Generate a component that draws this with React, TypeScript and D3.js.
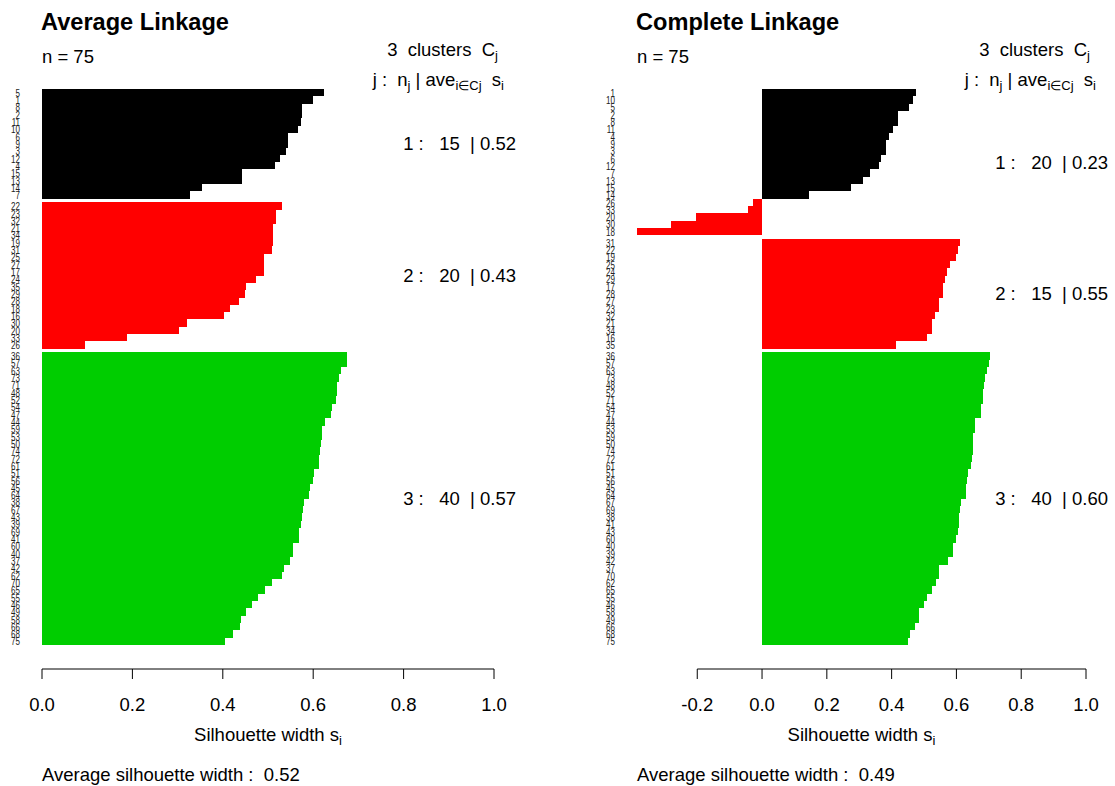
import React from 'react';
import * as d3 from 'd3';

const W = 1115;
const H = 786;
const FONT = '"Liberation Sans", Arial, Helvetica, sans-serif';
const BASE = 18.5;
const COLORS = ['#000000', '#FF0000', '#00CD00'];

// ---------- Average linkage (cluster member ids, top to bottom, and silhouette widths)
const avgC1Ids = [5, 1, 8, 2, 11, 10, 6, 9, 3, 12, 4, 15, 13, 14, 7];
const avgC1Vals = [0.624, 0.600, 0.575, 0.575, 0.573, 0.566, 0.544, 0.544, 0.539, 0.527, 0.516, 0.442, 0.442, 0.353, 0.327];
const avgC2Ids = [22, 23, 32, 21, 34, 19, 31, 25, 27, 17, 24, 35, 29, 28, 18, 16, 30, 20, 33, 26];
const avgC2Vals = [0.531, 0.518, 0.518, 0.511, 0.511, 0.511, 0.509, 0.491, 0.491, 0.491, 0.474, 0.452, 0.449, 0.436, 0.416, 0.403, 0.321, 0.303, 0.188, 0.095];
const avgC3Ids = [36, 57, 63, 73, 71, 48, 52, 54, 47, 44, 59, 53, 50, 74, 72, 61, 51, 56, 45, 64, 38, 67, 43, 39, 69, 41, 60, 40, 37, 42, 62, 70, 65, 55, 46, 49, 58, 66, 68, 75];
const avgC3Vals = [0.675, 0.675, 0.662, 0.657, 0.653, 0.653, 0.651, 0.642, 0.640, 0.626, 0.620, 0.620, 0.617, 0.615, 0.613, 0.613, 0.602, 0.600, 0.593, 0.591, 0.580, 0.578, 0.575, 0.573, 0.569, 0.569, 0.556, 0.556, 0.549, 0.536, 0.531, 0.509, 0.494, 0.478, 0.465, 0.452, 0.440, 0.438, 0.423, 0.405];

// ---------- Complete linkage
const compC1Ids = [1, 10, 5, 2, 8, 11, 4, 9, 3, 6, 12, 7, 13, 15, 14, 26, 33, 20, 30, 18];
const compC1Vals = [0.474, 0.466, 0.453, 0.419, 0.419, 0.403, 0.391, 0.382, 0.382, 0.367, 0.360, 0.332, 0.311, 0.274, 0.144, -0.028, -0.043, -0.204, -0.281, -0.386];
const compC2Ids = [31, 22, 19, 25, 24, 29, 17, 28, 27, 23, 32, 21, 34, 16, 35];
const compC2Vals = [0.611, 0.605, 0.599, 0.580, 0.571, 0.565, 0.559, 0.559, 0.546, 0.546, 0.534, 0.525, 0.525, 0.509, 0.414];
const compC3Ids = [36, 57, 63, 73, 48, 52, 71, 54, 47, 44, 53, 59, 50, 74, 72, 61, 51, 56, 45, 64, 67, 69, 38, 41, 43, 60, 40, 39, 42, 37, 70, 62, 65, 55, 46, 58, 49, 66, 68, 75];
const compC3Vals = [0.704, 0.701, 0.694, 0.688, 0.685, 0.682, 0.682, 0.676, 0.676, 0.658, 0.657, 0.651, 0.651, 0.651, 0.648, 0.645, 0.636, 0.633, 0.630, 0.630, 0.614, 0.611, 0.608, 0.608, 0.605, 0.599, 0.590, 0.590, 0.574, 0.546, 0.546, 0.538, 0.526, 0.509, 0.500, 0.486, 0.486, 0.472, 0.457, 0.451];

const leftTicks = [0, 0.2, 0.4, 0.6, 0.8, 1.0];
const rightTicks = [-0.2, 0, 0.2, 0.4, 0.6, 0.8, 1.0];

type Cluster = { ids: number[]; vals: number[] };

const avgClusters: Cluster[] = [
  { ids: avgC1Ids, vals: avgC1Vals },
  { ids: avgC2Ids, vals: avgC2Vals },
  { ids: avgC3Ids, vals: avgC3Vals },
];
const compClusters: Cluster[] = [
  { ids: compC1Ids, vals: compC1Vals },
  { ids: compC2Ids, vals: compC2Vals },
  { ids: compC3Ids, vals: compC3Vals },
];

// colour of each unit: its group in the average-linkage solution
const groupOf = new Map<number, number>();
avgClusters.forEach((c, k) => c.ids.forEach((id) => groupOf.set(id, k)));

const TOP = 89;
const BOTTOM = 645;
const AXIS_Y = 669;

function Panel(props: {
  title: string;
  clusters: Cluster[];
  plotLeft: number;
  plotRight: number;
  ticks: number[];
}) {
  const { title, clusters, plotLeft, plotRight, ticks } = props;
  const all = clusters.flatMap((c) => c.vals);
  const n = all.length;
  const k = clusters.length;
  const xMin = Math.min(0, d3.min(all) as number);
  const x = d3.scaleLinear().domain([xMin, 1]).range([plotLeft, plotRight]);
  const units = n + 0.5 * (k - 1);
  const y = d3.scaleLinear().domain([0, units]).range([TOP, BOTTOM]);

  const bars: { id: number; v: number; u: number; cl: number }[] = [];
  let u = 0;
  clusters.forEach((c, ci) => {
    if (ci > 0) u += 0.5;
    c.ids.forEach((id, i) => {
      bars.push({ id, v: c.vals[i], u, cl: ci });
      u += 1;
    });
  });

  const fmt2 = (v: number) => v.toFixed(2);
  const avgAll = d3.mean(all) as number;
  const midX = (x(xMin) + x(1)) / 2;

  return (
    <g>
      <text x={plotLeft - 1} y={30} fontSize={23.6} fontWeight="bold" fontFamily={FONT}>
        {title}
      </text>
      <text x={plotLeft} y={62.5} fontSize={BASE} fontFamily={FONT} style={{ whiteSpace: 'pre' }}>
        {`n = ${n}`}
      </text>
      <text x={x(1) + 4} y={55.5} fontSize={BASE} fontFamily={FONT} textAnchor="end" style={{ whiteSpace: 'pre' }}>
        {`${k}  clusters  C`}
        <tspan fontSize={13} dy={4}>j</tspan>
      </text>
      <text x={x(1) + 10} y={85.5} fontSize={BASE} fontFamily={FONT} textAnchor="end" style={{ whiteSpace: 'pre' }}>
        {'j :  n'}
        <tspan fontSize={13} dy={4}>j</tspan>
        <tspan dy={-4}>{' | ave'}</tspan>
        <tspan fontSize={13} dy={4}>{'i\u2208Cj'}</tspan>
        <tspan dy={-4}>{'  s'}</tspan>
        <tspan fontSize={13} dy={4}>i</tspan>
      </text>

      <g shapeRendering="crispEdges">
        {bars.map((b, i) => (
          <rect
            key={i}
            x={Math.min(x(0), x(b.v))}
            y={y(b.u)}
            width={Math.abs(x(b.v) - x(0))}
            height={y(b.u + 1) - y(b.u)}
            fill={COLORS[groupOf.get(b.id) as number]}
          />
        ))}
      </g>

      {bars.map((b, i) => (
        <text
          key={'l' + i}
          transform={`translate(${x(xMin) - 22},${y(b.u + 0.5)}) scale(0.7,1)`}
          dy="0.36em"
          fontSize={11.5}
          fontFamily={FONT}
          textAnchor="end"
          fill="#222"
        >
          {b.id}
        </text>
      ))}

      {clusters.map((c, ci) => {
        const us = bars.filter((b) => b.cl === ci).map((b) => b.u + 0.5);
        const cy = y(d3.mean(us) as number);
        return (
          <text
            key={'s' + ci}
            x={x(1) + 22}
            y={cy + 6.5}
            fontSize={BASE}
            fontFamily={FONT}
            textAnchor="end"
            style={{ whiteSpace: 'pre' }}
          >
            {`${ci + 1} :   ${c.vals.length}  | ${fmt2(d3.mean(c.vals) as number)}`}
          </text>
        );
      })}

      <line x1={x(ticks[0])} x2={x(ticks[ticks.length - 1])} y1={AXIS_Y} y2={AXIS_Y} stroke="#000" strokeWidth={1} />
      {ticks.map((t, i) => (
        <g key={'t' + i}>
          <line x1={x(t)} x2={x(t)} y1={AXIS_Y} y2={AXIS_Y + 10} stroke="#000" strokeWidth={1} />
          <text x={x(t)} y={711} fontSize={BASE} fontFamily={FONT} textAnchor="middle">
            {t.toFixed(1)}
          </text>
        </g>
      ))}
      <text x={midX} y={741} fontSize={BASE} fontFamily={FONT} textAnchor="middle">
        {'Silhouette width s'}
        <tspan fontSize={13} dy={4}>i</tspan>
      </text>
      <text x={plotLeft} y={781} fontSize={BASE} fontFamily={FONT} style={{ whiteSpace: 'pre' }}>
        {`Average silhouette width :  ${fmt2(avgAll)}`}
      </text>
    </g>
  );
}

export default function App() {
  return (
    <svg
      width={W}
      height={H}
      viewBox={`0 0 ${W} ${H}`}
      style={{ position: 'absolute', left: 0, top: 0, background: '#fff' }}
    >
      <rect width={W} height={H} fill="#fff" />
      <Panel title="Average Linkage" clusters={avgClusters} plotLeft={42} plotRight={494} ticks={leftTicks} />
      <Panel title="Complete Linkage" clusters={compClusters} plotLeft={637} plotRight={1086} ticks={rightTicks} />
    </svg>
  );
}
